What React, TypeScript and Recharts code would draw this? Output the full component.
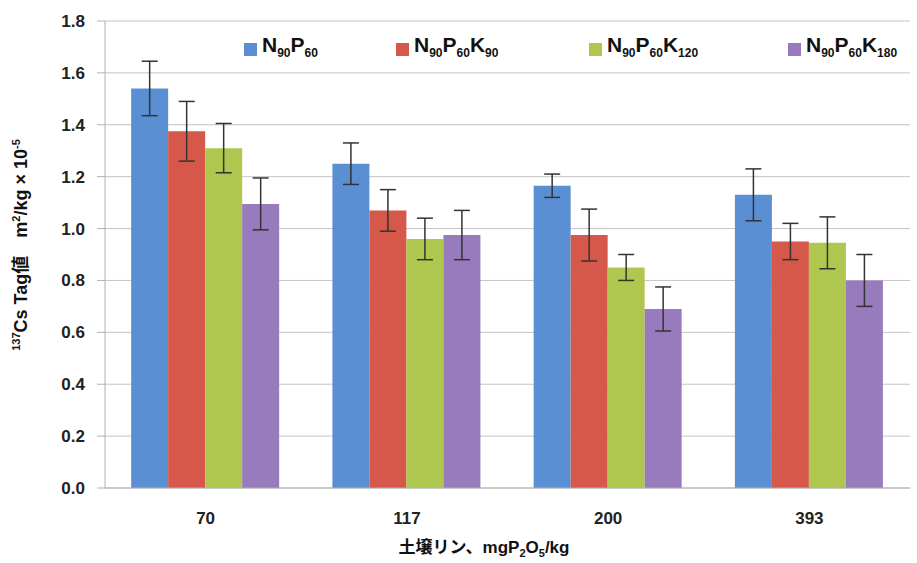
import { Bar, BarChart, CartesianGrid, ErrorBar, XAxis, YAxis } from "recharts";

const categories = ["70", "117", "200", "393"];
const n90p60 = [1.54, 1.25, 1.165, 1.13];
const n90p60Err = [0.105, 0.08, 0.045, 0.1];
const n90p60k90 = [1.375, 1.07, 0.975, 0.95];
const n90p60k90Err = [0.115, 0.08, 0.1, 0.07];
const n90p60k120 = [1.31, 0.96, 0.85, 0.945];
const n90p60k120Err = [0.095, 0.08, 0.05, 0.1];
const n90p60k180 = [1.095, 0.975, 0.69, 0.8];
const n90p60k180Err = [0.1, 0.095, 0.085, 0.1];
const yTicks = [0, 0.2, 0.4, 0.6, 0.8, 1.0, 1.2, 1.4, 1.6, 1.8];

const FONT = '"Liberation Sans", Arial, "Noto Sans CJK JP", sans-serif';

const series = [
  { key: "a", err: "aErr", color: "#5b8fd3", parts: [["N", "90"], ["P", "60"]] },
  { key: "b", err: "bErr", color: "#d6584a", parts: [["N", "90"], ["P", "60"], ["K", "90"]] },
  { key: "c", err: "cErr", color: "#afc74f", parts: [["N", "90"], ["P", "60"], ["K", "120"]] },
  { key: "d", err: "dErr", color: "#977bbd", parts: [["N", "90"], ["P", "60"], ["K", "180"]] },
];

const data = categories.map((c, i) => ({
  label: c,
  a: n90p60[i],
  aErr: n90p60Err[i],
  b: n90p60k90[i],
  bErr: n90p60k90Err[i],
  c: n90p60k120[i],
  cErr: n90p60k120Err[i],
  d: n90p60k180[i],
  dErr: n90p60k180Err[i],
}));

const legendX = [244, 396, 589, 788];

function LegendOverlay() {
  return (
    <div style={{ position: "absolute", left: 0, top: 32, width: 917, height: 30, fontFamily: FONT, fontWeight: "bold" }}>
      {series.map((s, i) => (
        <div
          key={s.key}
          style={{ position: "absolute", left: legendX[i], top: 0, display: "flex", alignItems: "center", whiteSpace: "nowrap" }}
        >
          <span style={{ display: "inline-block", width: 13, height: 13, background: s.color, marginRight: 5 }} />
          <span style={{ fontSize: 21, color: "#111", lineHeight: "26px" }}>
            {s.parts.map(([b, sub], j) => (
              <span key={j}>
                {b}
                <sub style={{ fontSize: 12, verticalAlign: "-5px" }}>{sub}</sub>
              </span>
            ))}
          </span>
        </div>
      ))}
    </div>
  );
}

function TitlesOverlay() {
  return (
    <svg width={917} height={563} style={{ position: "absolute", left: 0, top: 0, pointerEvents: "none" }}>
      <text
        transform="translate(27,245) rotate(-90)"
        textAnchor="middle"
        fontFamily={FONT}
        fontWeight="bold"
        fontSize={18}
        fill="#111"
      >
        <tspan fontSize={11} dy={-7}>137</tspan>
        <tspan dy={7}>Cs Tag値　m</tspan>
        <tspan fontSize={11} dy={-7}>2</tspan>
        <tspan dy={7}>/kg × 10</tspan>
        <tspan fontSize={11} dy={-7}>-5</tspan>
      </text>
      <text x={484} y={553} textAnchor="middle" fontFamily={FONT} fontWeight="bold" fontSize={17} fill="#111">
        <tspan>土壌リン、mgP</tspan>
        <tspan fontSize={11} dy={4}>2</tspan>
        <tspan dy={-4}>O</tspan>
        <tspan fontSize={11} dy={4}>5</tspan>
        <tspan dy={-4}>/kg</tspan>
      </text>
    </svg>
  );
}

export default function App() {
  return (
    <div style={{ position: "absolute", left: 0, top: 0, width: 917, height: 563, background: "#fff" }}>
      <BarChart
        width={917}
        height={563}
        data={data}
        margin={{ top: 21, right: 7, bottom: 45, left: 0 }}
        barCategoryGap="13%"
        barGap={0}
      >
        <CartesianGrid stroke="#c4c4c4" vertical={false} />
        <XAxis
          dataKey="label"
          height={30}
          stroke="#b0b0b0"
          tickLine={false}
          tickSize={0}
          tickMargin={24}
          tick={{ fill: "#222", fontSize: 17, fontWeight: "bold", fontFamily: FONT }}
        />
        <YAxis
          width={105}
          domain={[0, 1.8]}
          ticks={yTicks}
          interval={0}
          stroke="#b0b0b0"
          tickSize={8}
          tickMargin={12}
          tickFormatter={(v: number) => v.toFixed(1)}
          tick={{ fill: "#222", fontSize: 17, fontWeight: "bold", fontFamily: FONT }}
        />
        {series.map((s) => (
          <Bar key={s.key} dataKey={s.key} fill={s.color} isAnimationActive={false}>
            <ErrorBar dataKey={s.err} width={8} stroke="#333" strokeWidth={1.5} direction="y" />
          </Bar>
        ))}
      </BarChart>
      <LegendOverlay />
      <TitlesOverlay />
    </div>
  );
}
